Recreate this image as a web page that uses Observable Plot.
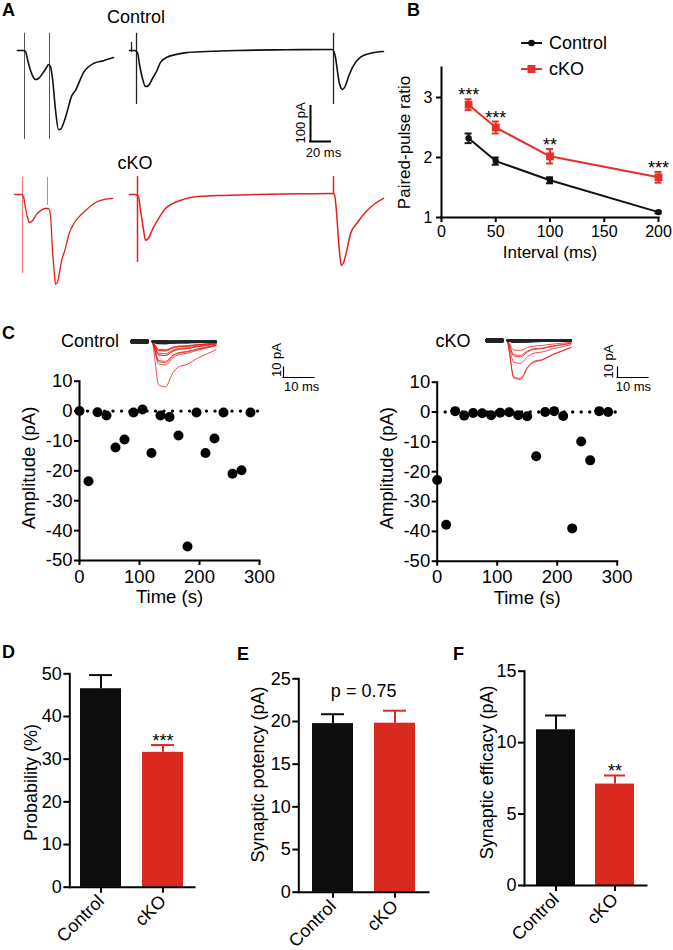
<!DOCTYPE html>
<html><head><meta charset="utf-8">
<script src="https://cdn.jsdelivr.net/npm/d3@7"></script>
<script src="https://cdn.jsdelivr.net/npm/@observablehq/plot@0.6"></script>
<style>
body{margin:0;background:#fff;}
#fig{position:relative;width:673px;height:950px;overflow:hidden;background:#fff;}
</style></head><body><div id="fig"></div>
<script>
// ---------------- DATA ----------------
// Panel A: evoked EPSC traces (time in ms relative to first stimulus of each segment, current in pA)
const ctrlPairT = [-7,-1,1,3,6,9,11,14,18,22,24,26,28,31,34,36,40,43,47,51,59,69,79,89];
const ctrlPairI = [0,0,-3,-25,-57,-77,-83,-80,-66,-49,-40,-46,-80,-170,-226,-225,-200,-171,-131,-114,-63,-37,-29,-20];
const ctrlLongT = [-7,-2,1,3,6,9,12,16,20,24,30,40,50,70,100,150,196,199,201,203,206,209,212,216,224,234,247];
const ctrlLongI = [0,0,-6,-40,-80,-103,-100,-80,-60,-34,-20,-11,-6,-3,0,2,3,-20,-60,-95,-111,-100,-75,-48,-19,-8,-3];
const ckoPairT = [-8,-1,1,3,5,7,10,14,18,23,26,28,30,32,33,35,39,43,46,52,55,63,73,82,90];
const ckoPairI = [0,0,-6,-40,-65,-80,-75,-57,-46,-40,-40,-60,-160,-230,-257,-250,-190,-153,-117,-80,-69,-46,-23,-14,-11];
const ckoLongT = [-8,-2,1,3,6,8,11,15,20,28,35,46,60,80,120,160,195,197,199,201,203,204,206,210,213,220,228,238,246];
const ckoLongI = [0,0,-6,-45,-100,-131,-125,-100,-74,-40,-26,-14,-6,-3,0,2,3,0,-50,-130,-190,-203,-195,-150,-112,-80,-51,-25,-11];
// stimulus artifacts (time ms, top pA, bottom pA)
const ctrlPairArtT = [0,25], ctrlPairArtTop = [49,49], ctrlPairArtBot = [-254,-254];
const ctrlLongArtT = [-5,0,197], ctrlLongArtTop = [23,49,49], ctrlLongArtBot = [-6,-154,-154];
const ckoPairArtT = [0,25], ckoPairArtTop = [49,49], ckoPairArtBot = [-226,-31];
const ckoLongArtT = [0,196], ckoLongArtTop = [51,51], ckoLongArtBot = [-194,0];
const scaleA_pA = 100, scaleA_ms = 20;

// Panel B: paired-pulse ratio
const intervals = [25,50,100,200];
const pprCtrl = [2.32,1.94,1.62,1.09];
const pprCtrlErr = [0.08,0.06,0.05,0.02];
const pprCko = [2.88,2.50,2.02,1.67];
const pprCkoErr = [0.09,0.10,0.12,0.09];
const ppSig = ["***","***","**","***"];

// Panel C: minimal stimulation amplitudes (every 15 s)
const sweepTime = [0,15,30,45,60,75,90,105,120,135,150,165,180,195,210,225,240,255,270,285];
const ampCtrl = [0,-23.5,-0.4,-1.5,-12.2,-9.5,-0.5,0.5,-14,-1.5,-2,-8.2,-45.3,-0.5,-14,-9.2,-0.5,-21,-19.8,-0.5];
const ampCko = [-22.8,-37.8,0.3,-1.2,-0.3,-0.4,-1.1,-0.2,-0.1,-1.1,-1.4,-14.8,0,0.3,-1.3,-39,-9.9,-16.2,0.3,0];
// inset EPSC waveform (ms, fraction of peak) read from the largest sweep
const epscT = [0,0.6,2.0,4.2,6.5,8.4,11.3,14.5,17.7,20.5];
const epscShape = [0,0.3,0.96,1.0,0.7,0.56,0.5,0.37,0.27,0.18];
const preT = [-6.5,-1.8];
const successCut = -5;
const scaleC_pA = 10, scaleC_ms = 10;

// Panels D-F
const groups = ["Control","cKO"];
const probMean = [46.5,31.6], probErr = [3.2,1.7], probSig = ["","***"];
const potMean = [19.75,19.8], potErr = [1.1,1.46], potSig = ["",""];
const effMean = [10.9,7.1], effErr = [1.0,0.6], effSig = ["","**"];

// ---------------- HELPERS ----------------
const fig = document.getElementById("fig");
const FONT = '"Liberation Sans", Arial, Helvetica, sans-serif';
const TRACE_RED = "#e3211c", LINE_RED = "#e4302a", BAR_RED = "#da2a20", BLACK = "#0d0d0d";
const groupColors = [BLACK, BAR_RED];
const baseStyle = {background:"transparent", overflow:"visible", fontFamily: FONT, color:"#000"};
const fmt = d => String(d);
const CENTER = {textAnchor:"middle", lineAnchor:"middle"};
function put(node, left, top){ node.style.position="absolute"; node.style.left=left+"px"; node.style.top=top+"px"; fig.appendChild(node); return node; }
function label(text, cx, cy, size, bold){
  const d=document.createElement("div"); d.textContent=text;
  d.style.cssText=`position:absolute;left:${cx}px;top:${cy}px;transform:translate(-50%,-50%);font-size:${size}px;line-height:1;white-space:nowrap;font-family:${FONT};font-weight:${bold?"bold":"normal"};color:#000`;
  fig.appendChild(d);
}
function letter(t, left, capTop){
  const d=document.createElement("div"); d.textContent=t;
  d.style.cssText=`position:absolute;left:${left}px;top:${capTop-2.3}px;font-size:18px;font-weight:bold;line-height:1;font-family:${FONT};color:#000`;
  fig.appendChild(d);
}
const rowsOf = (T,I,off) => T.map((t,i)=>({t:t+off, i:I[i]}));
const artRows = (T,top,bot,off) => T.map((t,k)=>({t:t+off, top:top[k], bot:bot[k]}));

// ---------------- PANEL A ----------------
const pxPerPA = 0.35;
const A1 = Plot.plot({
  width:400, height:160, margin:0,
  x:{domain:[-24,376], axis:null},
  y:{domain:[-(160-50)/pxPerPA, 50/pxPerPA], axis:null},
  style: baseStyle,
  marks:[
    Plot.ruleX(artRows(ctrlPairArtT,ctrlPairArtTop,ctrlPairArtBot,0), {x:"t", y1:"bot", y2:"top", stroke:"#555", strokeWidth:1}),
    Plot.ruleX(artRows(ctrlLongArtT,ctrlLongArtTop,ctrlLongArtBot,112), {x:"t", y1:"bot", y2:"top", stroke:"#222", strokeWidth:1.3}),
    Plot.line(rowsOf(ctrlPairT,ctrlPairI,0), {x:"t", y:"i", stroke:"#111", strokeWidth:1.6, curve:"monotone-x"}),
    Plot.line(rowsOf(ctrlLongT,ctrlLongI,112), {x:"t", y:"i", stroke:"#111", strokeWidth:1.6, curve:"monotone-x"}),
    Plot.ruleX([{t:286, y1:-260, y2:-260+scaleA_pA}], {x:"t", y1:"y1", y2:"y2", stroke:"#000", strokeWidth:2, strokeLinecap:"square"}),
    Plot.ruleY([{i:-260, x1:286, x2:286+scaleA_ms}], {y:"i", x1:"x1", x2:"x2", stroke:"#000", strokeWidth:2, strokeLinecap:"square"}),
    Plot.text([`${scaleA_pA} pA`], {x:276, y:-207, text:d=>d, rotate:-90, fontSize:13, ...CENTER}),
    Plot.text([`${scaleA_ms} ms`], {x:299, y:-291, text:d=>d, fontSize:13, ...CENTER})
  ]
});
put(A1, 0, 0);
const A2 = Plot.plot({
  width:400, height:140, margin:0,
  x:{domain:[-22,378], axis:null},
  y:{domain:[-(140-34)/pxPerPA, 34/pxPerPA], axis:null},
  style: baseStyle,
  marks:[
    Plot.ruleX(artRows(ckoPairArtT,ckoPairArtTop,ckoPairArtBot,0), {x:"t", y1:"bot", y2:"top", stroke:"#f07a75", strokeWidth:1}),
    Plot.ruleX(artRows(ckoLongArtT,ckoLongArtTop,ckoLongArtBot,115), {x:"t", y1:"bot", y2:"top", stroke:TRACE_RED, strokeWidth:1.5}),
    Plot.line(rowsOf(ckoPairT,ckoPairI,0), {x:"t", y:"i", stroke:TRACE_RED, strokeWidth:1.3, curve:"monotone-x"}),
    Plot.line(rowsOf(ckoLongT,ckoLongI,115), {x:"t", y:"i", stroke:TRACE_RED, strokeWidth:1.5, curve:"monotone-x"})
  ]
});
put(A2, 0, 160);
label("Control", 136, 17, 18);
label("cKO", 135, 163, 18);

// ---------------- PANEL B ----------------
const ppRows = intervals.map((x,i)=>({x, c:pprCtrl[i], ce:pprCtrlErr[i], k:pprCko[i], ke:pprCkoErr[i], s:ppSig[i]}));
const B = Plot.plot({
  width:283, height:260, marginLeft:51, marginRight:15, marginTop:67, marginBottom:43,
  x:{domain:[0,200], axis:null}, y:{domain:[1,3.5], axis:null},
  style: baseStyle,
  marks:[
    Plot.axisX({ticks:[0,50,100,150,200], tickSize:5, tickPadding:3, fontSize:16, strokeWidth:2, label:null, tickFormat:fmt}),
    Plot.axisY({ticks:[1,2,3], tickSize:5, tickPadding:4, fontSize:16, strokeWidth:2, label:null, tickFormat:fmt}),
    Plot.frame({anchor:"left", strokeWidth:2}),
    Plot.frame({anchor:"bottom", strokeWidth:2}),
    Plot.text(["Interval (ms)"], {frameAnchor:"bottom", dy:35, text:d=>d, fontSize:17, ...CENTER}),
    Plot.text(["Paired-pulse ratio"], {frameAnchor:"left", dx:-37, rotate:-90, text:d=>d, fontSize:17, ...CENTER}),
    Plot.line(ppRows, {x:"x", y:"c", stroke:"#111", strokeWidth:2}),
    Plot.line(ppRows, {x:"x", y:"k", stroke:LINE_RED, strokeWidth:2}),
    Plot.ruleX(ppRows, {x:"x", y1:d=>d.c-d.ce, y2:d=>d.c+d.ce, stroke:"#111", strokeWidth:2}),
    Plot.ruleY(ppRows, {y:d=>d.c+d.ce, x1:"x", x2:"x", insetLeft:-3.5, insetRight:-3.5, stroke:"#111", strokeWidth:2}),
    Plot.ruleY(ppRows, {y:d=>d.c-d.ce, x1:"x", x2:"x", insetLeft:-3.5, insetRight:-3.5, stroke:"#111", strokeWidth:2}),
    Plot.ruleX(ppRows, {x:"x", y1:d=>d.k-d.ke, y2:d=>d.k+d.ke, stroke:LINE_RED, strokeWidth:2}),
    Plot.ruleY(ppRows, {y:d=>d.k+d.ke, x1:"x", x2:"x", insetLeft:-3.5, insetRight:-3.5, stroke:LINE_RED, strokeWidth:2}),
    Plot.ruleY(ppRows, {y:d=>d.k-d.ke, x1:"x", x2:"x", insetLeft:-3.5, insetRight:-3.5, stroke:LINE_RED, strokeWidth:2}),
    Plot.dot(ppRows, {x:"x", y:"c", r:3.2, fill:"#111"}),
    Plot.dot(ppRows, {x:"x", y:"k", r:4.4, symbol:"square", fill:LINE_RED}),
    Plot.text(ppRows, {x:"x", y:d=>d.k+d.ke, text:"s", lineAnchor:"bottom", dy:2, fontSize:18})
  ]
});
put(B, 390, 0);
// legend
const leg = document.createElement("div");
leg.innerHTML = `<svg width="36" height="52" style="display:block">
 <line x1="6" y1="13" x2="27" y2="13" stroke="#111" stroke-width="2"/><circle cx="16.5" cy="13" r="3.3" fill="#111"/>
 <line x1="6" y1="39" x2="27" y2="39" stroke="${LINE_RED}" stroke-width="2"/><rect x="12.5" y="35" width="8" height="8" fill="${LINE_RED}"/></svg>`;
put(leg, 515, 30);
const lc = document.createElement("div"); lc.textContent="Control";
lc.style.cssText=`font-size:18px;line-height:1;font-family:${FONT};transform:translateY(-50%)`; put(lc, 549, 43);
const lk = document.createElement("div"); lk.textContent="cKO";
lk.style.cssText=`font-size:18px;line-height:1;font-family:${FONT};transform:translateY(-50%)`; put(lk, 549, 69);

// ---------------- PANEL C ----------------
function scatter(amps, ml, mr, mt, mb, w, ldy){
  const rows = sweepTime.map((t,i)=>({t, a:amps[i]}));
  return Plot.plot({
    width:w, height:280, marginLeft:ml, marginRight:mr, marginTop:mt, marginBottom:mb,
    x:{domain:[0,300], axis:null}, y:{domain:[-50,10], axis:null},
    style: baseStyle,
    marks:[
      Plot.axisX({ticks:[0,100,200,300], tickSize:5, tickPadding:4, fontSize:18.5, strokeWidth:2, label:null, tickFormat:fmt}),
      Plot.axisY({ticks:[-50,-40,-30,-20,-10,0,10], tickSize:5, tickPadding:2, fontSize:18.5, strokeWidth:2, label:null, tickFormat:fmt}),
      Plot.frame({anchor:"left", strokeWidth:2}),
      Plot.frame({anchor:"bottom", strokeWidth:2}),
      Plot.ruleY([0], {x1:0, x2:300, stroke:"#000", strokeWidth:3.4, strokeDasharray:"0,8.5", strokeLinecap:"round"}),
      Plot.dot(rows, {x:"t", y:"a", r:5, fill:"#000"}),
      Plot.text(["Time (s)"], {frameAnchor:"bottom", dy:37, text:d=>d, fontSize:18.5, ...CENTER}),
      Plot.text(["Amplitude (pA)"], {frameAnchor:"left", dx:-50.5, dy:ldy, rotate:-90, text:d=>d, fontSize:18.5, ...CENTER})
    ]
  });
}
put(scatter(ampCtrl, 79, 71, 60.7, 40, 330, -3), 0, 320);
put(scatter(ampCko, 96.7, 56.3, 61.7, 39.3, 333, -3.5), 340, 320);

function inset(amps, w, t0, base, sb, lblPA, lblMS){
  const rows = [];
  amps.forEach((a,s)=>{
    const ok = a < successCut;
    epscT.forEach((t,j)=>rows.push({s, t, i:a*epscShape[j], ok}));
  });
  const pre = [];
  amps.forEach((a,s)=>preT.forEach(t=>pre.push({s, t, i:0})));
  return Plot.plot({
    width:w, height:75, margin:0,
    x:{domain:[t0, t0 + w/3.1], axis:null},
    y:{domain:[base-75, base], axis:null},
    style: baseStyle,
    marks:[
      Plot.line(pre, {x:"t", y:"i", z:"s", stroke:"#222", strokeWidth:4}),
      Plot.line(rows.filter(d=>d.ok), {x:"t", y:"i", z:"s", stroke:TRACE_RED, strokeWidth:0.8, curve:"monotone-x"}),
      Plot.line(rows.filter(d=>!d.ok), {x:"t", y:"i", z:"s", stroke:"#222", strokeWidth:1.8, curve:"monotone-x"}),
      Plot.ruleX([{t:sb[0], y1:sb[1]-scaleC_pA, y2:sb[1]}], {x:"t", y1:"y1", y2:"y2", stroke:"#000", strokeWidth:1.2, strokeLinecap:"square"}),
      Plot.ruleY([{i:sb[1]-scaleC_pA, x1:sb[0], x2:sb[0]+scaleC_ms}], {y:"i", x1:"x1", x2:"x2", stroke:"#000", strokeWidth:1.2, strokeLinecap:"square"}),
      Plot.text([`${scaleC_pA} pA`], {x:lblPA[0], y:lblPA[1], text:d=>d, rotate:-90, fontSize:13, ...CENTER}),
      Plot.text([`${scaleC_ms} ms`], {x:lblMS[0], y:lblMS[1], text:d=>d, fontSize:13, ...CENTER})
    ]
  });
}
put(inset(ampCtrl, 220, -10.32, 16, [42.26,-26], [40,-18.5], [48.1,-45.7]), 120, 325);
put(inset(ampCko, 200, -11.94, 15, [35.48,-27], [32.6,-21], [40.6,-46.7]), 470, 325);
label("Control", 90, 341, 18);
label("cKO", 453, 341, 18);

// ---------------- PANELS D-F ----------------
function barChart({means, errs, sig, domain, ticks, ylabel, w, ml, mr, mt, mb, pi, po, ldx, ldy, extra=[]}){
  const rows = groups.map((g,i)=>({g, m:means[i], e:errs[i], s:sig[i], c:groupColors[i]}));
  return Plot.plot({
    width:w, height:310, marginLeft:ml, marginRight:mr, marginTop:mt, marginBottom:mb,
    x:{domain:groups, paddingInner:pi, paddingOuter:po, axis:null},
    y:{domain, axis:null},
    color:{type:"identity"},
    style: baseStyle,
    marks:[
      Plot.barY(rows, {x:"g", y:"m", fill:"c"}),
      Plot.ruleX(rows, {x:"g", y1:"m", y2:d=>d.m+d.e, stroke:"c", strokeWidth:2}),
      Plot.tickY(rows, {x:"g", y:d=>d.m+d.e, stroke:"c", strokeWidth:2, insetLeft:9, insetRight:9}),
      Plot.text(rows, {x:"g", y:d=>d.m+d.e, text:"s", lineAnchor:"bottom", dy:2, fontSize:18}),
      Plot.axisY({ticks, tickSize:6, tickPadding:2, fontSize:18, strokeWidth:2, label:null, tickFormat:fmt}),
      Plot.axisX({tickSize:6, tickPadding:5, tickRotate:-45, fontSize:18, strokeWidth:2, label:null}),
      Plot.frame({anchor:"left", strokeWidth:2}),
      Plot.frame({anchor:"bottom", strokeWidth:2}),
      Plot.text([ylabel], {frameAnchor:"left", dx:ldx, dy:ldy, rotate:-90, text:d=>d, fontSize:18, ...CENTER}),
      ...extra
    ]
  });
}
put(barChart({means:probMean, errs:probErr, sig:probSig, domain:[0,50], ticks:[0,10,20,30,40,50],
  ylabel:"Probability (%)", w:220, ml:69.3, mr:26, mt:33.3, mb:63.3, pi:0.34, po:0.17, ldx:-39, ldy:2}), 0, 640);
put(barChart({means:potMean, errs:potErr, sig:potSig, domain:[0,25], ticks:[0,5,10,15,20,25],
  ylabel:"Synaptic potency (pA)", w:220, ml:68.3, mr:22, mt:38.3, mb:58.3, pi:0.337, po:0.21, ldx:-41, ldy:-11,
  extra:[Plot.text(["p = 0.75"], {frameAnchor:"top", dy:12, text:d=>d, fontSize:18, ...CENTER})]}), 230, 640);
put(barChart({means:effMean, errs:effErr, sig:effSig, domain:[0,15], ticks:[0,5,10,15],
  ylabel:"Synaptic efficacy (pA)", w:223, ml:74, mr:27, mt:30.7, mb:65, pi:0.347, po:0.2, ldx:-37, ldy:-6}), 450, 640);

// panel letters
letter("A", 2, 3); letter("B", 407, 3); letter("C", 2, 326);
letter("D", 2, 645); letter("E", 237, 647); letter("F", 453, 647);
</script></body></html>
